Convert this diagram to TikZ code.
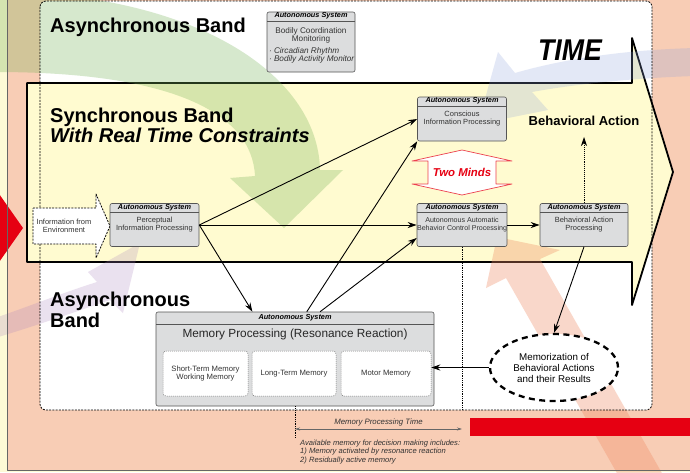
\documentclass[tikz,border=0pt]{standalone}
\usepackage{fontspec}
\setmainfont{Liberation Sans}
\usetikzlibrary{arrows.meta,positioning,shapes.geometric}
\definecolor{bgsalmon}{RGB}{248,205,181}
\definecolor{stripyellow}{RGB}{253,250,214}
\definecolor{bandyellow}{RGB}{255,251,208}
\definecolor{boxgray}{RGB}{220,221,222}
\definecolor{boxline}{RGB}{85,85,85}
\definecolor{signalred}{RGB}{230,0,18}
\definecolor{flowgreen}{RGB}{120,180,90}
\definecolor{flowblue}{RGB}{140,160,220}
\definecolor{flowpurple}{RGB}{170,130,190}
\definecolor{floworange}{RGB}{240,140,100}

\begin{document}
\begin{tikzpicture}[x=1pt, y=-1pt, line join=round,
      every node/.append style={inner sep=0pt},
      flow/.style={fill=#1, opacity=0.24, draw=none},
      asys/.style={draw=boxline, fill=boxgray, rounded corners=2pt, line width=0.6pt, align=center,
        text=black!80, font=\fontsize{7.5}{8}\selectfont,
        path picture={\draw[boxline, line width=0.6pt]
          ([yshift=-#1pt]path picture bounding box.north west) -- ([yshift=-#1pt]path picture bounding box.north east);},
        label={[hdr, yshift={-#1pt/2}]north:Autonomous System}},
      asys/.default=9,
      hdr/.style={anchor=center, text=black, font=\fontsize{7.3}{8}\selectfont\bfseries\itshape},
      memcell/.style={draw=boxline!80, fill=white, dash pattern=on 1pt off 1pt, rounded corners=3pt,
        line width=0.5pt, align=center, text=black!80, font=\fontsize{7.7}{9}\selectfont},
      band/.style={font=\fontsize{20}{22}\selectfont\bfseries, anchor=base west},
      flowarr/.style={-{Stealth[length=9pt,width=6pt]}, line width=0.9pt},
      dotline/.style={densely dotted, line width=0.8pt}]
    \tikzstyle{note} = [font=\fontsize{7.6}{8.5}\selectfont\itshape, text=black!80, align=left]

    \useasboundingbox (0,0) rectangle (690,472);
    \fill[stripyellow] (0,0) rectangle (690,472);
    \fill[bgsalmon] (7,0) rectangle (690,470);
    \fill[white, rounded corners=6pt] (40,1) rectangle (652,410);
    \draw[line width=1.8pt, fill=bandyellow] (27,83) -- (632,83) -- (632,38) -- (673,172)
      -- (632,305) -- (632,262) -- (27,262) -- cycle;

    \path[flow=flowgreen, opacity=0.3] (-5,-8) .. controls (190,-8) and (318,72) .. (320,170) -- (343,170)
      -- (284,228) -- (230,178) -- (255,176) .. controls (252,112) and (170,72) .. (-5,72) -- cycle;
    \path[flow=flowblue] (695,48) .. controls (620,50) and (560,60) .. (515,73) -- (498,52)
      -- (478,124) -- (548,110) -- (532,92) .. controls (570,85) and (630,78) .. (695,76) -- cycle;
    \path[flow=flowpurple] (-5,318) .. controls (30,306) and (65,292) .. (97,282) -- (88,272)
      -- (140,243) -- (123,313) -- (110,300) .. controls (75,312) and (35,326) .. (-5,338) -- cycle;
    \path[flow=floworange, opacity=0.34] (506,278) -- (486,288) -- (497,237) -- (560,250)
      -- (540,259) -- (667,482) -- (622,482) -- cycle;

    \fill[signalred] (-10,181) -- (23,228) -- (-10,275) -- cycle;
    \fill[signalred] (470,418) rectangle (692,436);
    \draw[black!60, line width=0.8pt] (7,-2) -- (7,470) -- (692,470);
    \draw[dash pattern=on 2pt off 1.2pt, line width=0.8pt, rounded corners=6pt] (40,1) rectangle (652,410);

    \node (asynctop) [band] at (50,32) {Asynchronous Band};
    \node (synctitle) [band] at (50,122) {Synchronous Band};
    \node (syncsub) [band, below=1pt of synctitle.south west, anchor=north west, font=\fontsize{20}{22}\selectfont\bfseries\itshape] {With Real Time Constraints};
    \node (asyncbot) [band] at (50,306) {Asynchronous};
    \node (asyncband) [band, below=2pt of asyncbot.south west, anchor=north west] {Band};
    \node (timelabel) [anchor=base, font=\fontsize{30}{30}\selectfont\bfseries\itshape] at (570,60) {\scalebox{0.89}[1]{TIME}};

    \node (bodily) [asys, minimum width=88pt, minimum height=60pt, font=\fontsize{8.2}{8}\selectfont] at (311,42)
      {\rule{0pt}{12pt}Bodily Coordination\\Monitoring\\[4pt]\makebox[84pt][l]{\itshape · Circadian Rhythm}\\\makebox[84pt][l]{\itshape · Bodily Activity Monitor}};

    \draw[dash pattern=on 2pt off 1.2pt, line width=0.8pt, fill=white] (33,208) -- (96,208) -- (96,194)
      -- (110,226) -- (96,258) -- (96,244) -- (33,244) -- cycle;
    \node (envinfo) [align=center, text=black!80, font=\fontsize{7.5}{8}\selectfont] at (64,226) {Information from\\Environment};

    \node (percep) [asys, minimum width=89pt, minimum height=43pt] at (154.5,225) {Perceptual\\Information Processing};
    \node (conscious) [asys, minimum width=89pt, minimum height=44pt] at (462,119) {Conscious\\Information Processing};
    \node (autoctl) [asys, minimum width=89pt, minimum height=43pt, font=\fontsize{7.1}{8}\selectfont] at (462,225) {Autonomous Automatic\\Behavior Control Processing};
    \node (behact) [asys, minimum width=88pt, minimum height=43pt] at (584,225) {Behavioral Action\\Processing};
    \node (behlabel) [font=\fontsize{13}{13}\selectfont\bfseries] at (584,121) {Behavioral Action};

    \draw[signalred!75, line width=0.7pt, fill=white] (462,150) -- (512,161) -- (496,161) -- (496,184) -- (512,184)
      -- (462,195) -- (412,184) -- (428,184) -- (428,161) -- (412,161) -- cycle;
    \node (twominds) [text=signalred, font=\fontsize{11.4}{12}\selectfont\bfseries\itshape] at (462,172.5) {Two Minds};

    \node (memory) [asys=12, minimum width=278pt, minimum height=94pt] at (295,359) {};
    \node (memtitle) [text=black!85, font=\fontsize{11.8}{12}\selectfont] at (295,334) {Memory Processing (Resonance Reaction)};
    \node (stm) [memcell, minimum width=85pt, minimum height=45pt] at (205.5,373.5) {Short-Term Memory\\Working Memory};
    \node (ltm) [memcell, minimum width=84pt, minimum height=45pt] at (294,373.5) {Long-Term Memory};
    \node (mtm) [memcell, minimum width=90pt, minimum height=45pt] at (386,373.5) {Motor Memory};

    \node (memorize) [ellipse, draw, fill=white, line width=2.3pt, dash pattern=on 6pt off 4.5pt,
      minimum width=128pt, minimum height=67pt, align=center, font=\fontsize{9.8}{11}\selectfont] at (554,367.5)
      {Memorization of\\Behavioral Actions\\and their Results};

    \draw[flowarr] (percep.east) -- (conscious.west);
    \draw[flowarr] (percep.east) -- (autoctl.west);
    \draw[flowarr] (percep.east) -- (memory.132);
    \draw[flowarr] (memory.76) -- (conscious.south west);
    \draw[flowarr] (memory.62) -- (autoctl.196);
    \draw[flowarr] (autoctl.east) -- (behact.west);
    \draw[flowarr] (behact.south) -- (memorize.north);
    \draw[flowarr] (memorize.west) -- (memorize.west -| mtm.east);
    \draw[flowarr, dotline, shorten >=11pt] (behact.north) -- (behlabel.south);

    \coordinate (wboxfoot) at (462,410);
    \coordinate (mptleft) at (295,429);
    \coordinate (mptright) at (462,429);
    \coordinate (mptfoot) at (295,437);
    \draw[dotline] (autoctl.south) -- (wboxfoot);
    \draw[dotline] (memory.south) -- (mptfoot);
    \draw[{Stealth[length=5pt,width=3pt]}-{Stealth[length=5pt,width=3pt]}, draw=black!60, line width=0.6pt]
      (mptleft) -- node[above=3pt, text=black!80, font=\fontsize{7.8}{8}\selectfont\itshape] (mptlabel) {Memory Processing Time} (mptright);
    \node (memnote) [note, anchor=north west] at (300,439.5)
      {Available memory for decision making includes:\\1) Memory activated by resonance reaction\\2) Residually active memory};
\end{tikzpicture}
\end{document}
